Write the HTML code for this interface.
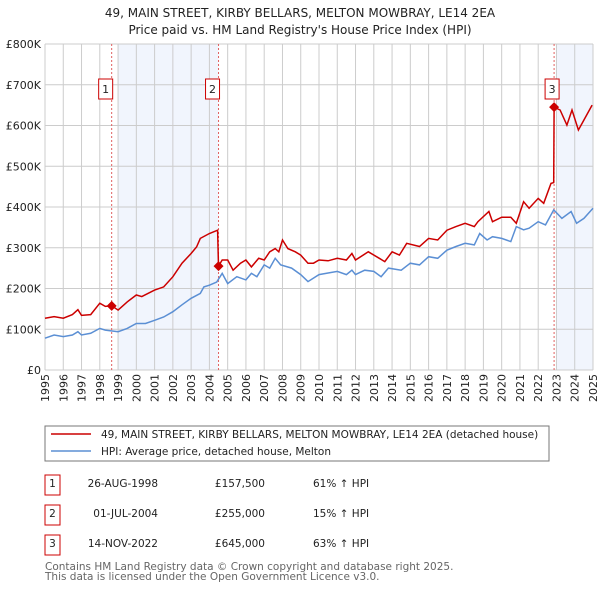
<!DOCTYPE html>
<html><head><meta charset="utf-8">
<style>
body{margin:0;background:#fff;font-family:"Liberation Sans","DejaVu Sans",sans-serif;}
svg text{font-family:"DejaVu Sans","Liberation Sans",sans-serif;}
</style></head>
<body>
<svg id="chart" width="600" height="590" viewBox="0 0 600 590" xmlns="http://www.w3.org/2000/svg">
<text x="300" y="17" text-anchor="middle" font-size="12" fill="#222">49, MAIN STREET, KIRBY BELLARS, MELTON MOWBRAY, LE14 2EA</text>
<text x="300" y="34" text-anchor="middle" font-size="12" fill="#222">Price paid vs. HM Land Registry's House Price Index (HPI)</text>
<g id="grid"></g>
<g id="series"></g>
<g id="legend">
<rect x="45" y="426" width="504" height="35" fill="#fff" stroke="#777" stroke-width="1"/>
<line x1="51" y1="434" x2="91" y2="434" stroke="#cc0000" stroke-width="1.5"/>
<text x="101" y="438" font-size="10.5" fill="#222">49, MAIN STREET, KIRBY BELLARS, MELTON MOWBRAY, LE14 2EA (detached house)</text>
<line x1="51" y1="451" x2="91" y2="451" stroke="#5b8fd4" stroke-width="1.5"/>
<text x="101" y="455" font-size="10.5" fill="#222">HPI: Average price, detached house, Melton</text>
</g>
<g id="table" font-size="10" fill="#222"></g>
<text x="45" y="570" font-size="10.5" fill="#666">Contains HM Land Registry data © Crown copyright and database right 2025.</text>
<text x="45" y="580" font-size="10.5" fill="#666">This data is licensed under the Open Government Licence v3.0.</text>
</svg>
<script>
const yTicks=[0,100,200,300,400,500,600,700,800];
const yTickLabels=["£0","£100K","£200K","£300K","£400K","£500K","£600K","£700K","£800K"];
const xYears=[1995,1996,1997,1998,1999,2000,2001,2002,2003,2004,2005,2006,2007,2008,2009,2010,2011,2012,2013,2014,2015,2016,2017,2018,2019,2020,2021,2022,2023,2024,2025];
const hpiDates=[1995,1995.5,1996,1996.5,1996.8,1997,1997.5,1998,1998.3,1999,1999.5,2000,2000.5,2001,2001.5,2002,2002.5,2003,2003.5,2003.7,2004,2004.4,2004.7,2005,2005.5,2006,2006.3,2006.6,2007,2007.3,2007.6,2007.9,2008.5,2009,2009.4,2010,2010.5,2011,2011.5,2011.8,2012,2012.5,2013,2013.4,2013.8,2014.5,2015,2015.5,2016,2016.5,2017,2017.5,2018,2018.5,2018.8,2019.2,2019.5,2020,2020.5,2020.8,2021.2,2021.5,2022,2022.4,2022.85,2023.3,2023.8,2024.1,2024.5,2025];
const hpiValues=[78,86,82,86,94,86,90,102,98,94,102,114,114,122,130,143,160,176,188,204,208,216,237,212,229,221,237,229,258,250,274,258,250,234,217,234,238,242,234,245,234,245,242,229,250,245,262,258,278,274,294,303,311,307,335,319,327,323,315,352,344,348,364,356,393,372,389,360,372,397];
const priceDates=[1995,1995.5,1996,1996.5,1996.8,1997,1997.5,1998,1998.3,1998.65,1999,1999.5,2000,2000.3,2001,2001.5,2002,2002.5,2003,2003.3,2003.5,2004,2004.45,2004.5,2004.7,2005,2005.3,2005.7,2006,2006.3,2006.7,2007,2007.3,2007.6,2007.8,2008,2008.3,2008.7,2009,2009.4,2009.7,2010,2010.5,2011,2011.5,2011.8,2012,2012.7,2013.3,2013.6,2014,2014.4,2014.8,2015.5,2016,2016.5,2017,2017.5,2018,2018.5,2018.7,2019.3,2019.5,2020,2020.5,2020.8,2021.2,2021.5,2022,2022.3,2022.7,2022.85,2022.87,2023.2,2023.57,2023.85,2024.2,2024.4,2024.95];
const priceValues=[127,131,127,136,148,134,136,164,156,157.5,147,167,184,180,196,204,229,262,286,302,323,335,343,255,270,270,245,262,270,253,274,270,290,298,290,319,298,290,282,262,262,270,268,274,270,286,270,290,274,266,290,282,311,303,323,319,343,352,360,352,364,389,364,375,375,360,413,397,421,409,458,460,645,638,601,638,589,605,650];
const saleLabels=["1","2","3"];
const saleDates=[1998.65,2004.5,2022.87];
const salePrices=[157.5,255,645];
const saleDateText=["26-AUG-1998","01-JUL-2004","14-NOV-2022"];
const salePriceText=["£157,500","£255,000","£645,000"];
const saleHpiText=["61% ↑ HPI","15% ↑ HPI","63% ↑ HPI"];

const NS="http://www.w3.org/2000/svg";
const X0=45,X1=593,Y0=370,Y1=44;
function xs(t){return X0+(t-1995)/30*(X1-X0);}
function ys(v){return Y0-v/800*(Y0-Y1);}
function mk(tag,attrs,parent){const e=document.createElementNS(NS,tag);for(const k in attrs)e.setAttribute(k,attrs[k]);parent.appendChild(e);return e;}
const grid=document.getElementById('grid');
let sh1=mk('rect',{x:xs(1999),y:Y1,width:xs(2004.5)-xs(1999),height:Y0-Y1,fill:'#eef3fc',opacity:0.8},grid);


let sh2=mk('rect',{x:xs(2023),y:Y1,width:X1-xs(2023),height:Y0-Y1,fill:'#eef3fc',opacity:0.8},grid);


yTicks.forEach((v,i)=>{
 const l=mk('line',{x1:X0,x2:X1,y1:ys(v),y2:ys(v),stroke:'#ccc','stroke-width':1},grid);
 
 
 const t=mk('text',{x:X0-4,y:ys(v)+4,'text-anchor':'end','font-size':11,fill:'#222'},grid);
 t.textContent=yTickLabels[i];
 
 
});
xYears.forEach(yr=>{
 const l=mk('line',{x1:xs(yr),x2:xs(yr),y1:Y1,y2:Y0,stroke:'#ccc','stroke-width':1},grid);
 
 
 const t=mk('text',{x:0,y:0,'text-anchor':'end','font-size':11,fill:'#222',transform:`translate(${xs(yr)+4},374) rotate(-90)`},grid);
 t.textContent=yr;
 
 
});
const ser=document.getElementById('series');
saleDates.forEach((d,i)=>{
 const l=mk('line',{x1:xs(d),x2:xs(d),y1:Y1,y2:Y0,stroke:'#e06060','stroke-width':1,'stroke-dasharray':'2,2'},ser);
 
 
});
function path(dates,vals){return dates.map((d,i)=>(i?'L':'M')+xs(d).toFixed(1)+','+ys(vals[i]).toFixed(1)).join(' ');}
const hp=mk('path',{d:path(hpiDates,hpiValues),fill:'none',stroke:'#5b8fd4','stroke-width':1.5},ser);


const pp=mk('path',{d:path(priceDates,priceValues),fill:'none',stroke:'#cc0000','stroke-width':1.5},ser);


saleDates.forEach((d,i)=>{
 const cx=xs(d),cy=ys(salePrices[i]);
 const m=mk('path',{d:`M${cx},${cy-5}L${cx+5},${cy}L${cx},${cy+5}L${cx-5},${cy}Z`,fill:'#cc0000'},ser);
 
 
 const bx=d>2020?cx-9:cx-13;
 const b=mk('rect',{x:bx,y:79,width:14,height:20,fill:'#fff',stroke:'#cc0000','stroke-width':1},ser);
 
 
 const t=mk('text',{x:bx+7,y:93,'text-anchor':'middle','font-size':11,fill:'#222'},ser);
 t.textContent=saleLabels[i];
 
 
});
const tb=document.getElementById('table');
const rowY=[485,515,545];
saleLabels.forEach((s,i)=>{
 const y=rowY[i];
 const b=mk('rect',{x:45,y:y-10,width:15,height:20,fill:'#fff',stroke:'#cc0000','stroke-width':1},tb);
 
 
 const cells=[[52.5,s,'middle'],[158,saleDateText[i],'end'],[265,salePriceText[i],'end'],[313,saleHpiText[i],'start']];
 cells.forEach(c=>{
  const t=mk('text',{x:c[0],y:y+2,'text-anchor':c[2],'font-size':10.5,fill:'#222'},tb);
  t.textContent=c[1];
  
  
 });
});
</script>
</body></html>
